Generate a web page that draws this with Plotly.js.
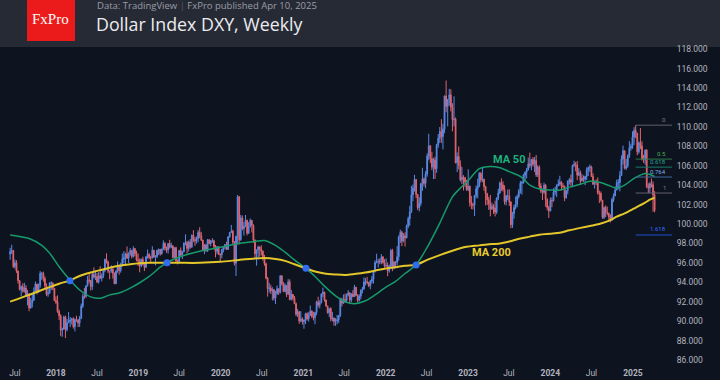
<!DOCTYPE html>
<html><head><meta charset="utf-8">
<script src="https://cdn.plot.ly/plotly-3.0.1.min.js"></script>
<style>html,body{margin:0;padding:0;background:#0e1320;}#chart{width:720px;height:380px;}</style>
</head><body><div id="chart"></div>
<script>
// Weekly DXY candles, first week starting Monday 2017-06-12
const firstWeek = '2017-06-12';
const firstOpen = 96.90;
const closes = [
// 2017
97.16,97.27,95.63,96.01,95.15,94.17,93.26,93.54,93.06,93.41,92.67,92.83,91.34,91.87,92.17,93.07,93.82,93.06,93.69,94.89,94.91,94.38,93.66,92.77,92.87,93.89,93.94,93.38,92.12,
// 2018
91.96,90.99,90.55,89.07,89.17,90.42,89.13,89.84,89.94,90.11,90.23,89.42,90.15,90.10,89.80,90.32,91.55,92.56,92.54,93.64,94.25,94.17,93.55,94.80,94.52,94.60,94.03,94.67,94.42,94.66,95.19,96.35,96.09,95.15,95.13,95.37,94.93,93.85,95.13,95.59,95.22,95.73,96.38,96.54,96.92,96.48,96.93,97.27,96.66,97.47,96.95,96.30,
// 2019
96.21,95.69,96.37,95.83,95.56,96.63,96.90,96.52,96.51,97.30,96.60,96.65,97.28,97.39,96.93,97.40,98.01,97.51,97.33,97.99,97.61,97.75,96.54,97.56,96.21,96.13,97.28,96.80,97.15,98.02,98.09,97.48,98.14,97.63,98.84,98.40,98.27,98.50,99.12,98.80,98.33,97.28,97.83,97.24,98.37,97.99,98.27,98.27,97.68,97.18,97.66,96.91,
// 2020
96.84,97.36,97.61,97.88,97.39,98.69,99.13,99.26,98.13,95.95,98.74,102.82,98.37,100.63,99.52,99.76,100.38,99.05,99.74,100.37,99.86,98.34,96.93,97.33,97.63,97.43,97.20,96.62,95.91,94.43,93.35,93.41,93.10,93.24,92.37,92.82,93.33,92.95,94.64,93.85,93.06,93.68,92.77,94.04,92.23,92.76,92.39,91.79,90.70,90.98,90.02,90.23,
// 2021
89.94,90.10,90.77,90.24,90.58,91.03,90.48,90.36,90.88,91.96,91.67,91.92,92.79,92.99,92.17,91.56,90.85,91.28,90.22,90.31,89.97,90.03,90.13,90.55,92.23,91.85,92.23,92.13,92.68,92.91,92.17,92.78,92.52,93.49,92.67,92.13,92.58,93.19,93.32,94.04,94.07,93.96,93.64,94.12,94.32,95.13,96.03,96.08,96.15,96.09,96.61,96.00,95.67,
// 2022
95.73,95.17,95.64,97.26,95.50,96.06,96.04,96.62,98.66,99.13,98.23,98.79,98.57,99.80,100.54,101.25,103.00,103.69,104.57,103.05,101.68,102.15,104.15,104.64,104.18,105.14,107.01,108.06,106.73,105.85,106.61,105.68,108.17,108.82,109.54,109.00,109.77,113.19,112.12,112.79,113.31,112.01,110.75,110.81,106.29,106.94,106.04,104.55,104.82,104.75,104.33,103.52,
// 2023
103.89,102.20,101.99,101.93,102.92,103.63,103.87,105.21,104.52,104.58,103.86,103.12,102.51,102.09,101.55,101.82,101.66,101.22,102.68,103.20,104.22,104.01,103.56,102.30,102.89,102.91,102.27,99.92,101.07,101.70,102.02,102.83,103.38,104.20,104.26,105.05,105.32,105.58,106.17,106.04,106.65,106.16,106.56,105.07,105.86,103.92,103.40,103.26,103.99,102.55,101.70,101.33,
// 2024
102.41,102.40,103.29,103.44,103.92,104.11,104.30,103.94,103.86,102.71,103.43,104.43,104.55,104.30,106.04,106.15,106.08,105.03,105.30,104.45,104.72,104.61,104.89,105.55,105.80,105.87,104.89,104.09,104.40,104.32,103.21,103.14,102.45,100.68,101.70,101.18,101.11,100.72,100.38,102.52,102.89,103.49,104.26,104.28,104.99,106.69,107.55,105.74,105.99,107.00,107.82,108.00,
// 2025
108.95,109.65,109.35,107.44,108.37,108.04,106.71,106.61,107.61,103.84,103.72,104.15,104.04,102.99,101.40
];
const highs = [
97.55,97.87,97.33,96.35,96.27,95.20,94.20,93.67,93.89,93.95,93.71,93.20,92.83,92.40,92.75,93.47,94.07,93.83,93.87,95.15,95.06,95.10,94.60,93.88,93.35,94.02,94.10,93.95,93.38,
92.55,92.65,91.19,90.70,89.33,90.56,90.56,90.22,90.93,90.43,90.33,90.40,90.28,90.55,90.21,90.53,91.80,92.84,93.42,93.64,94.65,95.00,94.24,95.10,95.53,95.24,94.95,95.05,95.65,94.91,95.27,96.44,96.98,96.20,95.19,95.75,95.44,95.01,95.24,96.14,95.83,96.00,96.96,97.20,97.05,97.69,97.10,97.53,97.30,97.71,97.45,97.25,
96.96,96.47,96.41,96.63,95.97,96.67,97.37,96.97,96.74,97.71,97.33,96.79,97.35,97.47,97.40,97.48,98.32,98.12,97.68,98.03,98.37,98.07,97.79,97.59,97.66,96.35,97.33,97.59,97.25,98.12,98.93,98.25,98.30,98.45,98.93,99.37,98.66,98.72,99.37,99.67,99.20,98.39,97.93,97.98,98.46,98.45,98.34,98.54,98.38,97.84,97.72,97.68,
96.96,97.45,97.63,97.93,98.18,98.73,99.18,99.91,99.40,98.23,98.79,102.99,102.85,100.93,100.88,100.20,100.93,100.45,100.20,100.56,100.42,99.97,98.40,97.37,97.77,97.70,97.81,97.26,96.83,96.02,94.54,93.95,93.74,93.49,93.27,93.12,93.66,93.35,94.74,94.74,94.03,93.90,93.69,94.31,94.30,93.21,92.76,92.59,91.91,91.26,91.01,91.02,
90.39,90.17,90.86,90.90,90.91,91.60,91.10,90.96,90.97,92.10,92.51,92.15,92.83,93.44,92.99,92.21,91.56,91.33,91.43,90.95,90.38,90.30,90.63,90.64,92.40,92.41,92.74,92.83,92.84,93.19,92.96,92.87,93.19,93.73,93.51,92.77,92.76,93.24,93.53,94.50,94.45,94.56,94.05,94.22,94.64,95.27,96.26,96.94,96.42,96.45,96.90,96.70,96.38,
96.47,96.05,95.82,97.44,97.45,96.20,96.18,97.73,98.83,99.42,99.30,99.06,99.15,99.94,100.76,101.86,103.93,104.07,105.07,104.64,103.07,102.75,104.23,105.79,104.79,105.43,107.27,109.29,108.04,107.43,106.81,106.93,108.27,109.27,109.99,110.79,110.32,113.22,114.78,112.88,113.92,113.88,112.44,113.15,110.97,107.38,107.99,106.55,105.87,105.03,104.86,104.55,
105.63,103.95,102.90,102.20,103.00,103.96,104.67,105.36,105.36,105.88,104.70,103.93,103.21,102.80,102.99,102.21,102.04,102.40,102.73,103.63,104.37,104.70,104.40,103.99,103.00,103.55,103.57,102.35,101.24,102.00,102.84,103.03,103.59,104.44,104.45,105.16,105.43,105.78,106.84,107.35,106.72,106.90,106.89,107.11,106.04,106.04,104.21,103.61,104.26,104.11,102.63,101.88,
102.73,102.74,103.69,103.83,104.10,104.60,104.97,104.42,104.21,103.96,103.51,104.48,104.73,105.10,106.11,106.52,106.39,106.49,105.75,105.51,105.13,105.00,104.98,105.84,105.92,106.13,106.00,105.22,104.48,104.59,104.80,103.44,103.35,102.46,101.79,101.92,101.80,101.17,101.00,102.69,103.14,103.87,104.57,104.63,105.44,107.07,108.07,107.55,106.70,107.18,108.54,108.28,
109.54,109.97,110.18,109.39,108.50,109.88,108.52,107.12,107.66,107.70,104.20,104.33,104.68,104.38,103.38
];
const lows = [
96.32,96.90,95.47,95.39,94.97,93.87,93.15,92.55,92.94,92.93,92.53,91.62,91.01,91.31,91.40,92.07,92.89,92.75,92.90,93.43,94.25,94.07,93.40,92.58,92.50,92.87,93.20,93.18,92.05,
91.75,90.85,90.11,88.44,88.38,89.13,88.25,88.94,89.82,89.38,89.65,89.23,88.94,89.94,89.38,89.40,90.20,91.35,92.29,92.40,93.56,93.89,93.14,93.20,94.40,94.23,93.91,93.86,94.34,94.08,94.43,95.03,95.93,94.94,94.31,94.96,94.38,93.81,93.81,94.98,94.78,94.99,95.62,95.95,95.68,96.40,95.98,96.73,96.45,96.55,96.67,96.15,
95.66,95.03,95.55,95.74,95.16,95.45,96.43,96.36,95.98,96.45,96.52,95.74,96.48,96.80,96.74,96.85,97.30,97.25,97.02,96.96,97.46,97.50,96.46,96.48,96.09,95.84,95.98,96.65,96.38,97.09,97.80,96.96,97.18,97.45,97.55,98.14,97.76,97.99,98.11,98.53,98.25,97.23,96.89,97.14,97.12,97.90,97.71,98.07,97.40,96.56,96.88,96.80,
96.13,96.47,97.08,97.38,97.34,97.32,98.57,99.11,97.86,95.72,94.65,97.88,97.90,98.27,99.35,98.81,99.68,98.83,98.98,99.63,99.13,98.08,96.43,95.71,96.35,96.63,96.76,96.23,95.70,94.29,92.52,92.94,92.79,92.13,92.12,91.75,92.70,92.70,92.85,93.66,92.98,92.99,92.47,92.69,92.13,92.13,92.13,91.75,90.50,90.41,89.72,89.90,
89.65,89.21,89.69,90.05,89.95,90.55,90.30,90.07,89.68,90.60,91.42,91.30,91.82,92.46,91.99,91.47,90.78,90.43,89.97,89.98,89.53,89.51,89.66,89.81,90.43,91.51,91.79,91.87,91.95,92.54,91.78,91.94,92.49,92.56,92.58,91.94,92.03,92.25,92.85,93.24,93.67,93.79,93.50,93.28,93.87,93.87,95.00,95.95,95.52,95.86,95.85,95.94,95.50,
95.58,94.63,94.99,95.55,95.14,95.34,95.46,95.72,96.23,98.05,97.72,98.12,97.68,98.54,99.57,99.82,101.12,102.35,103.34,102.67,101.43,101.30,101.86,103.41,103.86,103.67,104.87,106.56,106.28,105.54,104.63,104.64,105.27,107.85,108.35,108.36,107.68,109.36,111.51,110.06,112.19,111.60,109.54,110.06,106.27,105.34,105.62,104.37,104.12,103.45,103.80,103.41,
103.39,101.80,101.53,101.50,100.82,102.64,102.65,103.80,104.27,104.32,103.43,101.92,101.95,101.45,100.79,101.44,101.04,100.78,101.02,102.46,103.10,103.39,103.34,102.00,101.92,102.46,101.86,99.57,99.59,100.55,101.50,101.73,102.63,103.13,103.03,104.16,104.42,104.69,105.53,105.79,105.53,105.91,105.36,104.85,104.84,103.66,103.18,102.46,103.10,101.77,101.41,100.62,
101.33,101.74,102.30,102.96,102.77,103.91,103.92,103.44,103.69,102.35,102.59,103.07,104.06,103.88,103.93,105.86,105.43,104.52,104.95,104.08,104.38,104.34,103.99,104.53,104.94,105.37,104.86,104.05,103.65,104.02,103.02,102.16,102.30,100.53,100.51,100.71,100.90,100.21,100.16,100.38,102.27,102.94,103.48,103.57,103.37,104.97,106.13,105.63,105.55,105.79,106.80,107.55,
107.74,108.14,108.84,107.08,107.24,107.71,106.55,106.30,106.12,103.69,103.19,103.20,103.76,101.26,101.20
];

// Moving averages
const maDates = ['2017-06-12','2017-09-04','2017-10-30','2017-12-04','2018-01-15','2018-03-05','2018-04-16','2018-06-04','2018-07-16','2018-08-27','2018-10-08','2018-11-26','2019-01-07','2019-02-18','2019-04-08','2019-05-06','2019-07-01','2019-09-30','2019-12-30','2020-03-23','2020-06-01','2020-07-13','2020-08-31','2020-10-12','2020-11-23','2021-01-11','2021-02-22','2021-04-05','2021-05-24','2021-07-05','2021-08-16','2021-10-04','2021-11-15','2021-12-27','2022-02-14','2022-03-28','2022-05-16','2022-07-04','2022-08-29','2022-10-24','2022-11-28','2022-12-26','2023-02-20','2023-03-27','2023-05-22','2023-07-03','2023-08-21','2023-10-02','2023-11-13','2024-01-01','2024-02-12','2024-03-25','2024-05-13','2024-06-24','2024-08-05','2024-09-23','2024-10-21','2024-11-25','2025-01-06','2025-02-24','2025-03-17','2025-04-07'];
const ma50 = [98.87,98.5,97.8,97.0,95.6,94.2,93.2,92.5,92.35,92.7,92.9,93.4,93.95,94.6,95.55,96.0,96.6,97.2,97.6,98.0,98.2,98.3,97.8,97.1,96.3,95.45,94.6,93.6,92.6,92.0,91.8,92.1,92.7,93.4,94.1,94.9,95.8,97.6,100.1,102.8,103.7,104.3,105.7,105.9,105.8,105.4,104.9,104.0,103.6,103.5,103.5,103.8,104.1,104.4,104.3,103.9,103.7,104.0,104.7,105.2,105.1,104.9];
const ma200 = [92.0,92.7,93.2,93.5,93.85,94.2,94.65,95.0,95.25,95.5,95.7,95.85,95.95,96.0,96.0,96.0,96.0,96.0,96.1,96.3,96.45,96.5,96.4,96.2,95.85,95.45,95.1,94.9,94.8,94.75,94.85,95.0,95.2,95.4,95.55,95.7,95.8,96.3,96.8,97.25,97.5,97.65,97.8,97.9,98.0,98.2,98.5,98.7,98.9,99.0,99.1,99.35,99.6,99.8,100.0,100.4,100.75,101.1,101.6,102.2,102.5,102.7];

// MA crossings
const crossDates = ['2018-03-04','2019-05-08','2021-01-13','2022-05-16'];
const crossValues = [94.16,96.0,95.44,95.78];

// Fibonacci retracement
const fibLevels = [0, 0.5, 0.618, 0.764, 1, 1.618];
const fibLabels = ['0','0.5','0.618','0.764','1','1.618'];
const fibHigh = 110.18, fibLow = 103.19;
const fibStart = '2025-01-13';

// Axis ticks
const xTickVals = ['2017-07-03','2018-01-01','2018-07-02','2019-01-01','2019-07-01','2020-01-01','2020-07-01','2021-01-01','2021-07-01','2022-01-01','2022-07-01','2023-01-01','2023-07-01','2024-01-01','2024-07-01','2025-01-01'];
const xTickText = ['Jul','2018','Jul','2019','Jul','2020','Jul','2021','Jul','2022','Jul','2023','Jul','2024','Jul','2025'];
const yTickVals = [86,88,90,92,94,96,98,100,102,104,106,108,110,112,114,116,118];

// ---------- build ----------
const dates = [];
const t0 = Date.parse(firstWeek + 'T00:00:00Z');
for (let i = 0; i < closes.length; i++) dates.push(new Date(t0 + i * 7 * 86400000).toISOString().slice(0, 10));
const opens = [firstOpen].concat(closes.slice(0, -1));

const UP = '#5a8ae6', DOWN = '#e0646d';
const traces = [
  {type:'candlestick', x:dates, open:opens, high:highs, low:lows, close:closes,
   increasing:{line:{color:UP,width:1}, fillcolor:UP},
   decreasing:{line:{color:DOWN,width:1}, fillcolor:DOWN},
   whiskerwidth:0, hoverinfo:'skip', showlegend:false},
  {type:'scatter', mode:'lines', x:maDates, y:ma50, line:{color:'#169b6b', width:1.5, shape:'spline', smoothing:0.8}, hoverinfo:'skip', showlegend:false},
  {type:'scatter', mode:'lines', x:maDates, y:ma200, line:{color:'#e2c62a', width:2, shape:'spline', smoothing:0.8}, hoverinfo:'skip', showlegend:false},
  {type:'scatter', mode:'markers', x:crossDates, y:crossValues, marker:{color:'#2f6ef2', size:7}, hoverinfo:'skip', showlegend:false}
];

const xEnd = '2025-06-23';
const fibLineColors = ['#5f626c','#2c7a45','#167c6a','#3d6b99','#5f626c','#2250c8'];
const fibTextColors = ['#7e818b','#4caf50','#22a88e','#7fb0e6','#7e818b','#2f6bff'];
const shapes = [
  {type:'rect', xref:'paper', yref:'paper', x0:-0.01, x1:1.08, y0:1.0, y1:1.2, fillcolor:'#262a35', line:{width:0}, layer:'below'},
  {type:'rect', xref:'paper', yref:'paper', x0:27/672, x1:75/672, y0:1+6/319, y1:1.2, fillcolor:'#ec1b1b', line:{width:0}, layer:'below'}
];
const annotations = [
  {xref:'paper', yref:'paper', x:51/672, y:1+28/319, text:'FxPro', showarrow:false, xanchor:'center', yanchor:'middle', font:{family:'Liberation Serif, DejaVu Serif, serif', size:15, color:'#ffffff'}},
  {xref:'paper', yref:'paper', x:95/672, y:1+41/319, text:'Data: TradingView <span style="color:#555966">|</span> FxPro published Apr 10, 2025', showarrow:false, xanchor:'left', yanchor:'middle', font:{family:'Open Sans, sans-serif', size:9.5, color:'#9a9da6'}},
  {xref:'paper', yref:'paper', x:94/672, y:1+23/319, text:'Dollar Index DXY, Weekly', showarrow:false, xanchor:'left', yanchor:'middle', font:{family:'Open Sans, sans-serif', size:17.8, color:'#ececef'}},
  {xref:'x', yref:'y', x:'2023-07-02', y:106.69, text:'<b>MA 50</b>', showarrow:false, xanchor:'center', yanchor:'middle', font:{family:'Roboto, sans-serif', size:11, color:'#1fb07a'}},
  {xref:'x', yref:'y', x:'2023-04-13', y:97.04, text:'<b>MA 200</b>', showarrow:false, xanchor:'center', yanchor:'middle', font:{family:'Roboto, sans-serif', size:11, color:'#e8cc2c'}}
];
fibLevels.forEach((lv, i) => {
  const price = fibHigh - lv * (fibHigh - fibLow);
  shapes.push({type:'line', xref:'x', yref:'y', x0:fibStart, x1:xEnd, y0:price, y1:price, line:{color:fibLineColors[i], width:1}});
  annotations.push({xref:'paper', yref:'y', x:668/672, y:price, yshift:6, text:fibLabels[i], showarrow:false, xanchor:'right', yanchor:'middle', font:{family:'Roboto, sans-serif', size:6, color:fibTextColors[i]}});
});

const layout = {
  width:720, height:380,
  margin:{l:0, r:48, t:47, b:14, pad:0},
  paper_bgcolor:'#0e1320', plot_bgcolor:'#0e1320',
  showlegend:false,
  xaxis:{type:'date', range:['2017-04-28', xEnd], showgrid:false, zeroline:false, showline:false,
         tickmode:'array', tickvals:xTickVals, ticktext:xTickText.map(t => /^\d{4}$/.test(t) ? '<b>'+t+'</b>' : t),
         ticks:'', tickfont:{family:'Roboto, sans-serif', size:8.5, color:'#b2b5be'},
         rangeslider:{visible:false}, fixedrange:true},
  yaxis:{side:'right', range:[85.376, 118.23], showgrid:false, zeroline:false, showline:false,
         tickmode:'array', tickvals:yTickVals, tickformat:'.3f', ticks:'outside', ticklen:2, tickcolor:'rgba(0,0,0,0)',
         tickfont:{family:'Roboto, sans-serif', size:8.5, color:'#b2b5be'}, fixedrange:true},
  shapes:shapes, annotations:annotations
};
Plotly.newPlot('chart', traces, layout, {displayModeBar:false, staticPlot:true});
</script>
</body></html>
